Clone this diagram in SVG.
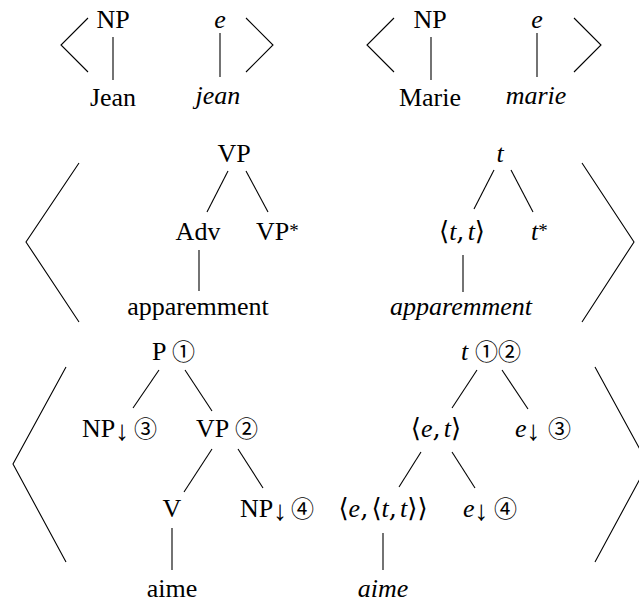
<svg xmlns="http://www.w3.org/2000/svg" width="639" height="604" viewBox="0 0 639 604">
<style>
  .t { font-family: "Liberation Serif", "Times New Roman", "DejaVu Serif", serif; font-size: 26px; fill: #000; }
  .m { font-family: "Liberation Serif", "DejaVu Serif", serif; font-size: 26px; font-style: italic; fill: #000; }
  .i { font-style: italic; }
  .u { font-style: normal; font-family: "DejaVu Serif", "Liberation Serif", serif; font-size: 26px; }
  .a { font-style: normal; font-family: "Liberation Serif", "DejaVu Serif", serif; font-size: 28px; }
  .c { font-family: "Noto Sans CJK SC", "DejaVu Sans", sans-serif; font-size: 23px; font-style: normal; }
  .s { font-size: 19px; font-style: normal; }
  .mid { text-anchor: middle; }
  line, polyline { stroke: #000; stroke-width: 1.1; fill: none; }
</style>
<rect width="639" height="604" fill="#fff"/>

<g id="brackets">
  <polyline points="88,18 61,45 88,72"/>
  <polyline points="246,18 273,45 246,72"/>
  <polyline points="394,18 367,45 394,72"/>
  <polyline points="574,18 601,45 574,72"/>
  <polyline points="79,163 26,242 79,322"/>
  <polyline points="582,163 634,242 582,322"/>
  <polyline points="66,367 13,464 66,562"/>
  <polyline points="595,367 648,464 595,562"/>
</g>

<g id="connectors">
  <line x1="113" y1="37" x2="113" y2="80"/>
  <line x1="220" y1="33" x2="220" y2="77"/>
  <line x1="431" y1="37" x2="431" y2="80"/>
  <line x1="537" y1="33" x2="537" y2="77"/>

  <line x1="228" y1="171" x2="207" y2="212"/>
  <line x1="246" y1="171" x2="268" y2="212"/>
  <line x1="199" y1="250" x2="199" y2="291"/>
  <line x1="494" y1="170" x2="474" y2="209"/>
  <line x1="511" y1="170" x2="533" y2="212"/>
  <line x1="463" y1="255" x2="463" y2="292"/>

  <line x1="159" y1="370" x2="133" y2="408"/>
  <line x1="185" y1="370" x2="212" y2="411"/>
  <line x1="212" y1="449" x2="184" y2="492"/>
  <line x1="238" y1="449" x2="263" y2="488"/>
  <line x1="172" y1="528" x2="172" y2="570"/>

  <line x1="477" y1="370" x2="452" y2="408"/>
  <line x1="502" y1="370" x2="528" y2="409"/>
  <line x1="421" y1="452" x2="399" y2="487"/>
  <line x1="452" y1="452" x2="475" y2="488"/>
  <line x1="383" y1="533" x2="383" y2="570"/>
</g>

<g id="np-jean"><text class="t mid" x="113" y="28">NP</text></g>
<g id="jean"><text class="t mid" x="113" y="106">Jean</text></g>
<g id="e-jean"><text class="m mid" x="220" y="28">e</text></g>
<g id="jean-sem"><text class="t i mid" x="218" y="104">jean</text></g>

<g id="np-marie"><text class="t mid" x="430" y="28">NP</text></g>
<g id="marie"><text class="t mid" x="430" y="106">Marie</text></g>
<g id="e-marie"><text class="m mid" x="537" y="28">e</text></g>
<g id="marie-sem"><text class="t i mid" x="536" y="104">marie</text></g>

<g id="vp-aux"><text class="t mid" x="234" y="162">VP</text></g>
<g id="adv"><text class="t mid" x="198" y="240">Adv</text></g>
<g id="vp-foot"><text class="t" x="256" y="240">VP<tspan class="s" dy="-3">*</tspan></text></g>
<g id="apparemment"><text class="t mid" x="198" y="315">apparemment</text></g>

<g id="t-aux"><text class="m mid" x="500" y="162">t</text></g>
<g id="tt"><text class="m mid" x="462" y="240"><tspan class="u">⟨</tspan>t<tspan class="u">,</tspan><tspan dx="3">t</tspan><tspan class="u">⟩</tspan></text></g>
<g id="t-foot"><text class="m" x="531" y="240">t<tspan class="s" dy="-3">*</tspan></text></g>
<g id="apparemment-sem"><text class="t i mid" x="461" y="315">apparemment</text></g>

<g id="p"><text class="t" x="152" y="360">P<tspan class="c" x="172">①</tspan></text></g>
<g id="np-subj"><text class="t" x="82" y="437">NP<tspan class="a" dy="3">↓</tspan><tspan class="c" x="134" y="437">③</tspan></text></g>
<g id="vp"><text class="t" x="196" y="437">VP<tspan class="c" x="235">②</tspan></text></g>
<g id="v"><text class="t mid" x="172" y="517">V</text></g>
<g id="np-obj"><text class="t" x="240" y="517">NP<tspan class="a" dy="3">↓</tspan><tspan class="c" x="291" y="517">④</tspan></text></g>
<g id="aime"><text class="t mid" x="172" y="597">aime</text></g>

<g id="t"><text class="m" x="461" y="360">t<tspan class="c" x="475">①②</tspan></text></g>
<g id="et"><text class="m mid" x="436" y="437"><tspan class="u">⟨</tspan>e<tspan class="u">,</tspan><tspan dx="3">t</tspan><tspan class="u">⟩</tspan></text></g>
<g id="e-subj"><text class="m" x="515" y="437">e<tspan class="a" dy="3">↓</tspan><tspan class="c" x="548" y="437">③</tspan></text></g>
<g id="ett"><text class="m mid" x="383" y="517"><tspan class="u">⟨</tspan>e<tspan class="u">,</tspan><tspan class="u" dx="3">⟨</tspan>t<tspan class="u">,</tspan><tspan dx="3">t</tspan><tspan class="u">⟩⟩</tspan></text></g>
<g id="e-obj"><text class="m" x="463" y="517">e<tspan class="a" dy="3">↓</tspan><tspan class="c" x="494" y="517">④</tspan></text></g>
<g id="aime-sem"><text class="t i mid" x="383" y="597">aime</text></g>
</svg>
